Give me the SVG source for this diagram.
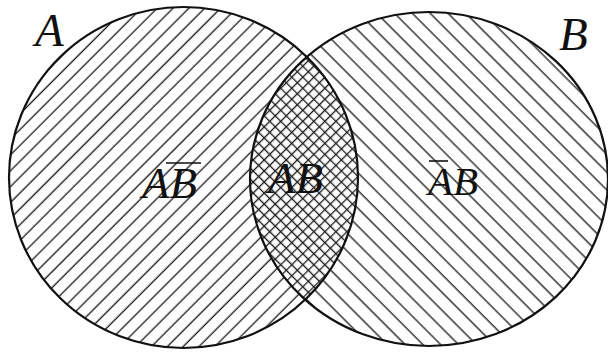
<svg xmlns="http://www.w3.org/2000/svg" width="608" height="354" viewBox="0 0 608 354">
  <style>
    .outline { fill: none; stroke: #111; stroke-width: 2.2; }
    .hatch { stroke: #1e1e1e; stroke-width: 1.35; }
    .lbl { font-family: "Liberation Serif", "Times New Roman", serif; font-style: italic; fill: #111; }
    .bar { stroke: #111; stroke-width: 1.6; }
  </style>
  <defs>
    <pattern id="hatchA" patternUnits="userSpaceOnUse" width="11.2" height="10" patternTransform="rotate(45)">
      <line class="hatch" x1="5" y1="-1" x2="5" y2="11"/>
    </pattern>
    <pattern id="hatchB" patternUnits="userSpaceOnUse" width="12.6" height="10" patternTransform="rotate(-45)">
      <line class="hatch" x1="5" y1="-1" x2="5" y2="11"/>
    </pattern>
    <pattern id="lensA" patternUnits="userSpaceOnUse" width="7.8" height="10" patternTransform="rotate(45)">
      <line class="hatch" x1="3.5" y1="-1" x2="3.5" y2="11"/>
    </pattern>
    <pattern id="lensB" patternUnits="userSpaceOnUse" width="7.8" height="10" patternTransform="rotate(-45)">
      <line class="hatch" x1="3.5" y1="-1" x2="3.5" y2="11"/>
    </pattern>
    <clipPath id="clipA">
      <ellipse cx="183.5" cy="177.5" rx="174.5" ry="170.5"/>
    </clipPath>
  </defs>

  <g id="setA">
    <ellipse cx="183.5" cy="177.5" rx="174.5" ry="170.5" fill="url(#hatchA)"/>
  </g>
  <g id="setB">
    <ellipse cx="429" cy="179" rx="179" ry="167" fill="url(#hatchB)"/>
  </g>
  <g id="intersection" clip-path="url(#clipA)">
    <ellipse cx="429" cy="179" rx="179" ry="167" fill="#fff"/>
    <ellipse cx="429" cy="179" rx="179" ry="167" fill="url(#lensA)"/>
    <ellipse cx="429" cy="179" rx="179" ry="167" fill="url(#lensB)"/>
  </g>
  <g id="outlines">
    <ellipse class="outline" cx="183.5" cy="177.5" rx="174.5" ry="170.5"/>
    <ellipse class="outline" cx="429" cy="179" rx="179" ry="167"/>
  </g>

  <g id="labels">
    <text class="lbl" x="35" y="46" font-size="47">A</text>
    <text class="lbl" x="559" y="50" font-size="47">B</text>

    <g id="label-ABbar">
      <text class="lbl" x="142" y="198" font-size="45">AB</text>
      <line class="bar" x1="166" y1="163" x2="201" y2="163"/>
    </g>
    <g id="label-AB">
      <text class="lbl" x="268" y="193" font-size="45">AB</text>
    </g>
    <g id="label-AbarB">
      <text class="lbl" x="428" y="195" font-size="41">AB</text>
      <line class="bar" x1="429" y1="161" x2="448" y2="161"/>
    </g>
  </g>
</svg>
